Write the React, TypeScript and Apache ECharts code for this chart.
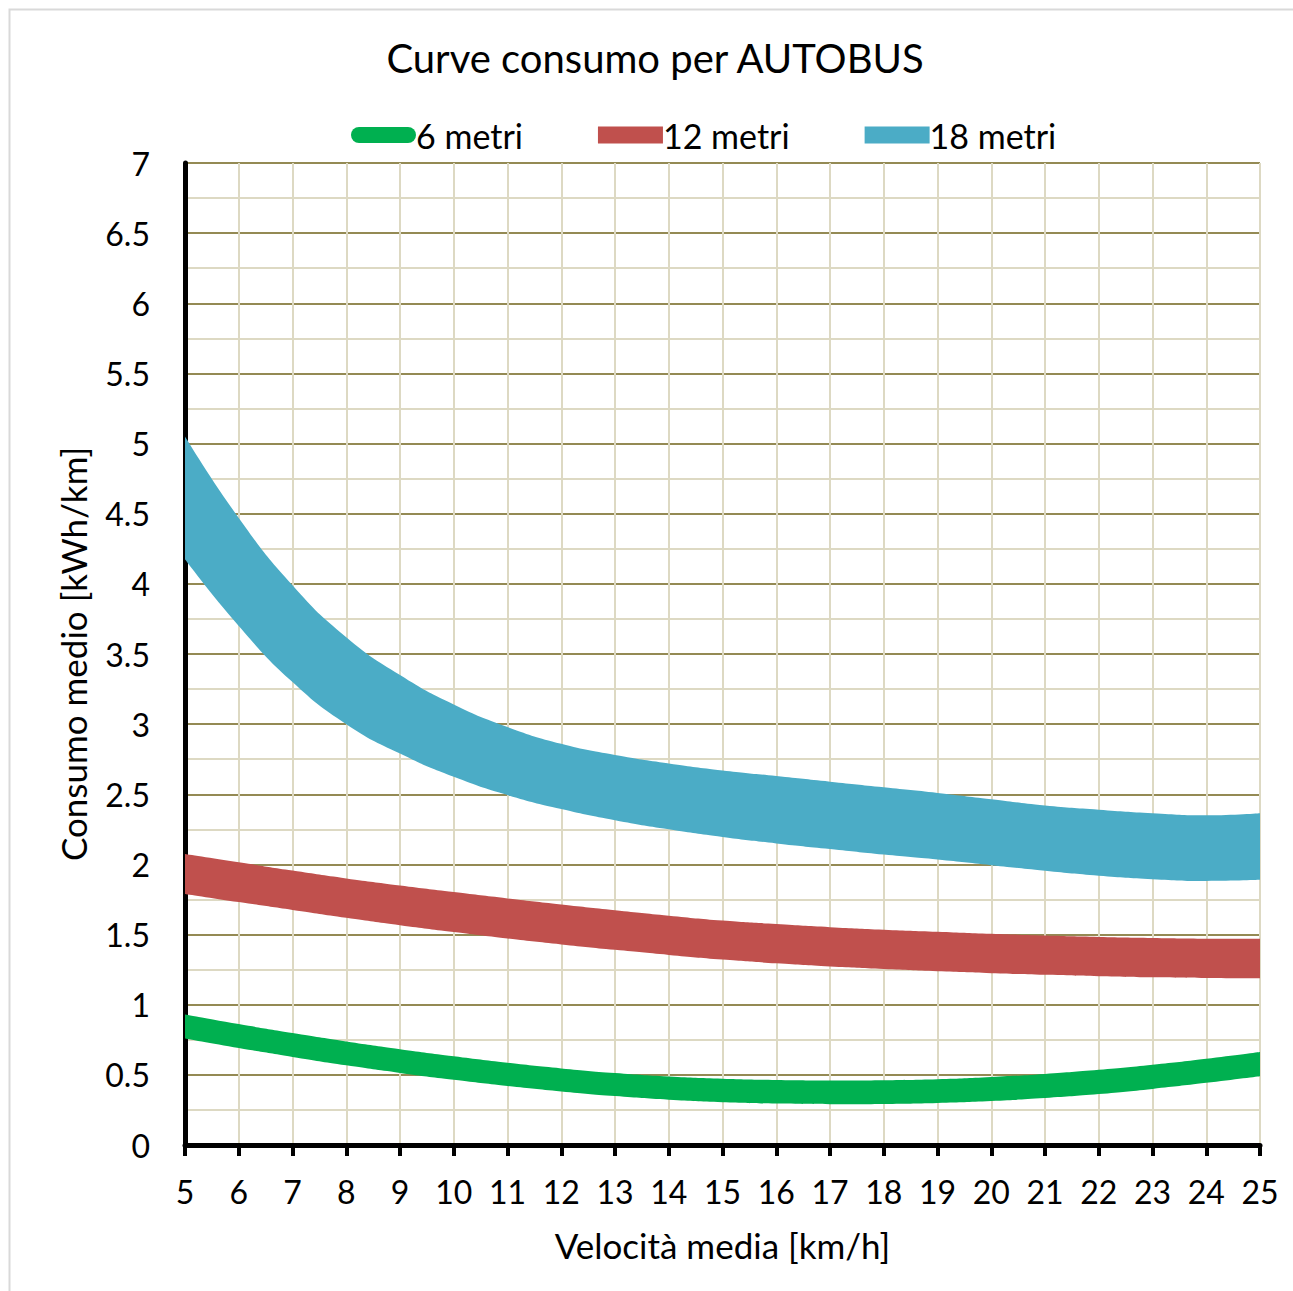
import React, { useEffect, useRef } from "react";
import * as echarts from "echarts";

const speeds = [5, 6, 7, 8, 9, 10, 11, 12, 13, 14, 15, 16, 17, 18, 19, 20, 21, 22, 23, 24, 25];

const upper6 = [0.93, 0.862, 0.798, 0.738, 0.683, 0.632, 0.586, 0.546, 0.513, 0.488, 0.472, 0.463, 0.46, 0.462, 0.469, 0.485, 0.507, 0.536, 0.572, 0.615, 0.663];
const lower6 = [0.76, 0.692, 0.628, 0.568, 0.514, 0.465, 0.421, 0.382, 0.349, 0.323, 0.305, 0.295, 0.291, 0.293, 0.3, 0.314, 0.335, 0.363, 0.4, 0.443, 0.49];

const upper12 = [2.074, 2.015, 1.956, 1.9, 1.85, 1.803, 1.758, 1.715, 1.674, 1.635, 1.6, 1.575, 1.553, 1.535, 1.52, 1.505, 1.493, 1.483, 1.476, 1.471, 1.47];
const lower12 = [1.79, 1.732, 1.676, 1.62, 1.567, 1.518, 1.472, 1.43, 1.391, 1.355, 1.322, 1.295, 1.272, 1.254, 1.238, 1.225, 1.213, 1.203, 1.195, 1.19, 1.188];

const upper18 = [5.05, 4.47, 3.99, 3.62, 3.35, 3.14, 2.98, 2.86, 2.78, 2.72, 2.67, 2.63, 2.59, 2.55, 2.51, 2.465, 2.42, 2.39, 2.365, 2.35, 2.365];
const lower18 = [4.175, 3.7, 3.3, 3.0, 2.79, 2.625, 2.495, 2.395, 2.315, 2.25, 2.195, 2.15, 2.11, 2.07, 2.035, 1.995, 1.955, 1.92, 1.895, 1.882, 1.89];

const seriesNames = ["6 metri", "12 metri", "18 metri"];
const seriesColors = ["#00B050", "#C0504D", "#4BACC6"];

const titleText = "Curve consumo per AUTOBUS";
const xAxisTitle = "Velocità media [km/h]";
const yAxisTitle = "Consumo medio [kWh/km]";

const FONT = "Lato";

export default function App() {
  const ref = useRef<HTMLDivElement>(null);

  useEffect(() => {
    const chart = echarts.init(ref.current as HTMLDivElement, null, { renderer: "svg" });

    const band = (name: string, lower: number[], upper: number[], color: string, stack: string) => [
      {
        type: "line",
        name: name + " base",
        stack,
        data: lower,
        smooth: true,
        symbol: "none",
        silent: true,
        lineStyle: { width: 0, opacity: 0 },
      },
      {
        type: "line",
        name,
        stack,
        color,
        data: upper.map((u, i) => +(u - lower[i]).toFixed(4)),
        smooth: true,
        symbol: "none",
        silent: true,
        lineStyle: { width: 0, opacity: 0 },
        areaStyle: { color, opacity: 1 },
      },
    ];

    const capsule = "path://M8,0 L57,0 A8,8 0 0 1 57,16 L8,16 A8,8 0 0 1 8,0 Z";

    chart.setOption({
      animation: false,
      backgroundColor: "#ffffff",
      textStyle: { fontFamily: FONT },
      title: {
        text: titleText,
        left: 650,
        textAlign: "center",
        top: 33,
        textStyle: { fontFamily: FONT, fontSize: 40, fontWeight: "normal", color: "#000" },
      },
      legend: {
        top: 113,
        left: 346,
        itemWidth: 65,
        itemHeight: 17,
        itemGap: 75,
        data: [
          { name: seriesNames[0], icon: capsule, itemStyle: { color: seriesColors[0] } },
          { name: seriesNames[1], icon: "rect", itemStyle: { color: seriesColors[1] } },
          { name: seriesNames[2], icon: "rect", itemStyle: { color: seriesColors[2] } },
        ],
        textStyle: { fontFamily: FONT, fontSize: 34, color: "#000", padding: [0, 0, 0, -5] },
      },
      graphic: [
        {
          type: "rect",
          z: -10,
          silent: true,
          shape: { x: 9.5, y: 9.5, width: 1400, height: 1400 },
          style: { fill: "transparent", stroke: "#d9d9d9", lineWidth: 2 },
        },
      ],
      grid: { left: 185, top: 163, width: 1075, height: 982 },
      xAxis: {
        type: "category",
        data: speeds.map(String),
        boundaryGap: false,
        name: xAxisTitle,
        nameLocation: "middle",
        nameGap: 82,
        nameTextStyle: { fontFamily: FONT, fontSize: 35, color: "#000" },
        axisLine: { onZero: false, lineStyle: { color: "#000", width: 5 } },
        axisTick: { show: true, length: 11, lineStyle: { color: "#000", width: 4 } },
        axisLabel: { fontFamily: FONT, fontSize: 32, color: "#000", margin: 30, interval: 0 },
        splitLine: { show: true, interval: 0, lineStyle: { color: "#DDD9C3", width: 2 } },
      },
      yAxis: {
        type: "value",
        min: 0,
        max: 7,
        interval: 0.5,
        name: yAxisTitle,
        nameLocation: "middle",
        nameGap: 95,
        nameTextStyle: { fontFamily: FONT, fontSize: 35, color: "#000" },
        axisLine: { show: true, lineStyle: { color: "#000", width: 5 } },
        axisTick: { show: false },
        axisLabel: { fontFamily: FONT, fontSize: 32, color: "#000", margin: 35 },
        splitLine: { show: true, lineStyle: { color: "#948A54", width: 2 } },
        minorTick: { show: false, splitNumber: 2 },
        minorSplitLine: { show: true, lineStyle: { color: "#DDD9C3", width: 2 } },
      },
      series: [
        ...band(seriesNames[2], lower18, upper18, seriesColors[2], "b18"),
        ...band(seriesNames[1], lower12, upper12, seriesColors[1], "b12"),
        ...band(seriesNames[0], lower6, upper6, seriesColors[0], "b6"),
      ],
    });

    return () => chart.dispose();
  }, []);

  return (
    <div
      ref={ref}
      style={{ position: "fixed", left: 0, top: 0, width: 1293, height: 1291, background: "#fff" }}
    />
  );
}
